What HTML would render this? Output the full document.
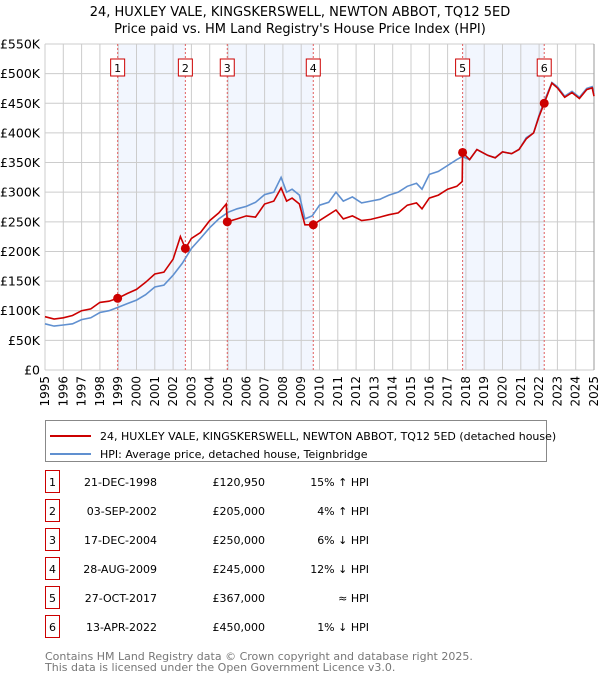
<!DOCTYPE html>
<html><head><meta charset="utf-8"><style>
body{margin:0;background:#fff;font-family:"DejaVu Sans","Liberation Sans",sans-serif;}
svg text{font-family:"DejaVu Sans","Liberation Sans",sans-serif;}
</style></head><body>
<svg id="c" width="600" height="680" xmlns="http://www.w3.org/2000/svg"></svg>
<script>
const hpiYears=[1995,1995.5,1996,1996.5,1997,1997.5,1998,1998.5,1999,1999.5,2000,2000.5,2001,2001.5,2002,2002.5,2003,2003.5,2004,2004.5,2005,2005.5,2006,2006.5,2007,2007.5,2007.9,2008.2,2008.5,2008.9,2009.2,2009.6,2010,2010.5,2010.9,2011.3,2011.8,2012.3,2012.8,2013.3,2013.8,2014.3,2014.8,2015.3,2015.6,2016,2016.5,2017,2017.5,2017.8,2018.2,2018.6,2019.2,2019.6,2020,2020.5,2020.9,2021.3,2021.7,2022,2022.3,2022.7,2023,2023.4,2023.8,2024.2,2024.6,2024.9,2025];
const hpiValues=[78,74,76,78,85,88,97,100,106,112,118,127,140,143,160,180,205,222,240,255,266,272,276,283,296,300,325,300,305,295,255,260,278,283,300,285,292,282,285,288,295,300,310,315,305,330,335,345,355,360,355,372,362,358,368,365,372,392,400,430,455,485,478,462,470,460,475,478,465];
const priceYears=[1995,1995.5,1996,1996.5,1997,1997.5,1998,1998.5,1998.97,1999.5,2000,2000.5,2001,2001.5,2002,2002.4,2002.67,2003,2003.5,2004,2004.5,2004.9,2004.96,2005.5,2006,2006.5,2007,2007.5,2007.9,2008.2,2008.5,2008.9,2009.2,2009.66,2010,2010.5,2010.9,2011.3,2011.8,2012.3,2012.8,2013.3,2013.8,2014.3,2014.8,2015.3,2015.6,2016,2016.5,2017,2017.5,2017.8,2017.82,2018.2,2018.6,2019.2,2019.6,2020,2020.5,2020.9,2021.3,2021.7,2022,2022.28,2022.7,2023,2023.4,2023.8,2024.2,2024.6,2024.9,2025];
const priceValues=[90,86,88,92,100,103,114,116,121,129,136,148,162,165,187,225,205,222,232,252,265,280,250,255,260,258,280,285,307,285,290,280,245,245,252,262,270,255,260,252,254,258,262,265,278,282,272,290,295,305,310,318,367,355,372,362,358,368,365,372,390,400,428,450,484,476,460,468,458,473,476,462];
const saleYears=[1998.97,2002.67,2004.96,2009.66,2017.82,2022.28];
const saleValues=[120.95,205,250,245,367,450];
const saleLabels=["1","2","3","4","5","6"];
const saleDates=["21-DEC-1998","03-SEP-2002","17-DEC-2004","28-AUG-2009","27-OCT-2017","13-APR-2022"];
const salePrices=["£120,950","£205,000","£250,000","£245,000","£367,000","£450,000"];
const saleHpi=["15% ↑ HPI","4% ↑ HPI","6% ↓ HPI","12% ↓ HPI","≈ HPI","1% ↓ HPI"];
const yTicks=[0,50,100,150,200,250,300,350,400,450,500,550];
const yTickLabels=["£0","£50K","£100K","£150K","£200K","£250K","£300K","£350K","£400K","£450K","£500K","£550K"];
const xTicks=[1995,1996,1997,1998,1999,2000,2001,2002,2003,2004,2005,2006,2007,2008,2009,2010,2011,2012,2013,2014,2015,2016,2017,2018,2019,2020,2021,2022,2023,2024,2025];

const svg=document.getElementById('c');const NS='http://www.w3.org/2000/svg';
const L=45,R=594,T=44,B=370;
const X=y=>L+(y-1995)/30*(R-L);
const Y=v=>B-v/550*(B-T);
function el(t,a,p){const e=document.createElementNS(NS,t);for(const k in a)e.setAttribute(k,a[k]);(p||svg).appendChild(e);return e;}
function tx(x,y,s,a,p){const e=el('text',Object.assign({x:x,y:y},a),p);e.textContent=s;return e;}

let t=tx(300,16,"24, HUXLEY VALE, KINGSKERSWELL, NEWTON ABBOT, TQ12 5ED",{'text-anchor':'middle','font-size':'13'});

t=tx(300,33,"Price paid vs. HM Land Registry's House Price Index (HPI)",{'text-anchor':'middle','font-size':'13'});


// shaded bands
for(let i=0;i<saleYears.length;i+=2){
  const r=el('rect',{x:X(saleYears[i]),y:T,width:X(saleYears[i+1])-X(saleYears[i]),height:B-T,fill:'#eef3fd',opacity:'0.75'});
  
}
// grid
xTicks.forEach(v=>{const g=el('line',{x1:X(v),x2:X(v),y1:T,y2:B,stroke:'#cccccc','stroke-width':1});
  
  const lx=X(v)+4,ly=376;
  const l=tx(lx,ly,String(v),{'text-anchor':'end','font-size':'12',transform:`rotate(-90 ${lx} ${ly})`});
  });
yTicks.forEach((v,i)=>{const g=el('line',{x1:L,x2:R,y1:Y(v),y2:Y(v),stroke:'#cccccc','stroke-width':1});
  
  const l=tx(40,Y(v)+4.5,yTickLabels[i],{'text-anchor':'end','font-size':'12.5'});
  });
el('line',{x1:R,x2:R,y1:T,y2:B,stroke:'#999','stroke-width':1});
// sale vlines
saleYears.forEach((v,i)=>{const g=el('line',{x1:X(v),x2:X(v),y1:T,y2:B,stroke:'#e06060','stroke-width':1,'stroke-dasharray':'2,2'});
  
  const r=el('rect',{x:X(v)-7,y:59,width:14,height:17,fill:'#fff',stroke:'#cc0000','stroke-width':1});
  
  const l=tx(X(v),72,saleLabels[i],{'text-anchor':'middle','font-size':'11'});
  });
// lines
function pts(xs,ys){return xs.map((x,i)=>X(x).toFixed(1)+','+Y(ys[i]).toFixed(1)).join(' ');}
let p=el('polyline',{points:pts(hpiYears,hpiValues),fill:'none',stroke:'#6090d0','stroke-width':1.6});

p=el('polyline',{points:pts(priceYears,priceValues),fill:'none',stroke:'#cc0000','stroke-width':1.6});

saleYears.forEach((v,i)=>{const c=el('circle',{cx:X(v),cy:Y(saleValues[i]),r:4.5,fill:'#cc0000'});
  });

// legend
const lg=el('g',{});
el('rect',{x:45.5,y:420.5,width:501,height:41,fill:'#fff',stroke:'#888'},lg);
el('line',{x1:50,x2:91,y1:436,y2:436,stroke:'#cc0000','stroke-width':2},lg);
el('line',{x1:50,x2:91,y1:454,y2:454,stroke:'#6090d0','stroke-width':2},lg);
t=tx(100,440,"24, HUXLEY VALE, KINGSKERSWELL, NEWTON ABBOT, TQ12 5ED (detached house)",{'font-size':'11'},lg);

t=tx(100,458,"HPI: Average price, detached house, Teignbridge",{'font-size':'11'},lg);


// table
saleLabels.forEach((s,i)=>{const y=482+i*29;
  const r=el('rect',{x:45.5,y:y-11.5,width:14,height:22,fill:'#fff',stroke:'#cc0000'});
  
  let a=tx(52.5,y+4,s,{'text-anchor':'middle','font-size':'11'});
  a=tx(157,y+4,saleDates[i],{'text-anchor':'end','font-size':'11'});
  a=tx(265,y+4,salePrices[i],{'text-anchor':'end','font-size':'11'});
  a=tx(369,y+4,saleHpi[i],{'text-anchor':'end','font-size':'11'});
});
t=tx(45,660,"Contains HM Land Registry data © Crown copyright and database right 2025.",{'font-size':'11',fill:'#777'});

t=tx(45,671,"This data is licensed under the Open Government Licence v3.0.",{'font-size':'11',fill:'#777'});

</script>
</body></html>
